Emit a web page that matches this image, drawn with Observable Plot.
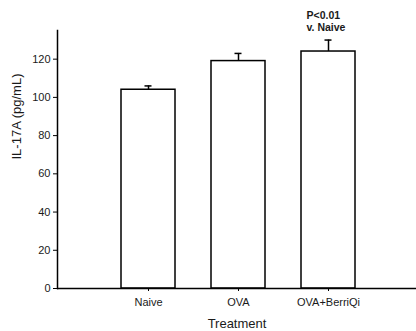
<!DOCTYPE html>
<html>
<head>
<meta charset="utf-8">
<script src="https://cdn.jsdelivr.net/npm/d3@7"></script>
<script src="https://cdn.jsdelivr.net/npm/@observablehq/plot@0.6"></script>
<style>
  html, body { margin: 0; padding: 0; background: #fff; }
  #chart svg { display: block; }
</style>
</head>
<body>
<div id="chart"></div>
<script>
const categories = ["Naive", "OVA", "OVA+BerriQi"];
const means = [104, 119, 124];
const errors = [2, 4, 6];
const yTicks = [0, 20, 40, 60, 80, 100, 120];
const annotationCategory = "OVA+BerriQi";
const annotationText = "P<0.01\nv. Naive";

const data = categories.map((c, i) => ({cat: c, mean: means[i], hi: means[i] + errors[i]}));
const annot = data.filter(d => d.cat === annotationCategory).map(d => ({...d, text: annotationText}));

const font = "'Liberation Sans', Arial, Helvetica, sans-serif";

const chart = Plot.plot({
  width: 416,
  height: 331,
  marginLeft: 57,
  marginRight: 0,
  marginTop: 30,
  marginBottom: 43,
  style: {fontFamily: font, fontSize: "11px", color: "#1a1a1a", background: "#fff"},
  x: {domain: categories, range: [102.5, 372.5], padding: 0.4, paddingOuter: 0.2},
  y: {domain: [0, 135]},
  marks: [
    Plot.frame({anchor: "left", stroke: "#000", strokeWidth: 1.5}),
    Plot.ruleX(data, {x: "cat", y1: "mean", y2: "hi", stroke: "#000", strokeWidth: 1.5}),
    Plot.tickY(data, {x: "cat", y: "hi", stroke: "#000", strokeWidth: 1.5, insetLeft: 23.5, insetRight: 23.5}),
    Plot.barY(data, {x: "cat", y: "mean", fill: "#fff", stroke: "#000", strokeWidth: 1.5}),
    Plot.ruleY([0], {stroke: "#000", strokeWidth: 1.5}),
    Plot.axisY({ticks: yTicks, tickSize: 4, tickPadding: 3, label: null, fontSize: 11, stroke: "#000"}),
    Plot.axisX({tickSize: 3, tickPadding: 7, label: null, fontSize: 11, stroke: "#000"}),
    Plot.text(["IL-17A (pg/mL)"], {frameAnchor: "left", dx: -41, rotate: -90, fontSize: 13, fill: "#1a1a1a"}),
    Plot.text(["Treatment"], {frameAnchor: "bottom", dy: 39, fontSize: 13, fill: "#1a1a1a"}),
    Plot.text(annot, {x: "cat", y: "hi", text: "text", textAnchor: "start", lineAnchor: "bottom", dx: -22, dy: -9, fontWeight: "bold", fontSize: 10.5, lineHeight: 1.15, fill: "#1a1a1a"})
  ]
});
document.getElementById("chart").appendChild(chart);
</script>
</body>
</html>
